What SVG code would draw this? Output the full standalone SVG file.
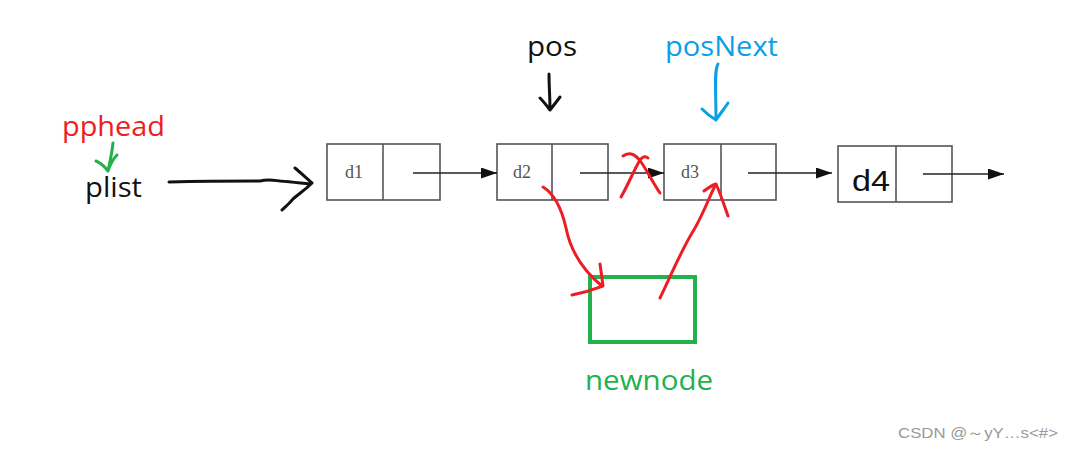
<svg xmlns="http://www.w3.org/2000/svg" width="1073" height="451" viewBox="0 0 1073 451">
<defs>
<marker id="ah" markerWidth="16" markerHeight="11" refX="16" refY="5.5" orient="auto" markerUnits="userSpaceOnUse"><path d="M0,0 L16,5.5 L0,11 Z" fill="#111"/></marker>
<style>
.box{fill:#fff;stroke:#555;stroke-width:1.6}
.lbl{font-family:"Liberation Serif",serif;font-size:18px;fill:#555}
.big{font-family:"Open Sans","Noto Sans",sans-serif;font-size:27px}
.link{stroke:#222;stroke-width:1.3;fill:none;marker-end:url(#ah)}
.pen{fill:none;stroke-linecap:round;stroke-linejoin:round}
.red{stroke:#ee1c24;stroke-width:3}
</style>
</defs>
<rect width="1073" height="451" fill="#fff"/>
<g id="node-d1"><rect class="box" x="327" y="144" width="113" height="56"/><line class="box" x1="383" y1="144" x2="383" y2="200"/><text class="lbl" x="345" y="178">d1</text></g>
<g id="node-d2"><rect class="box" x="497" y="144" width="111" height="56"/><line class="box" x1="552" y1="144" x2="552" y2="200"/><text class="lbl" x="513" y="178">d2</text></g>
<g id="node-d3"><rect class="box" x="664" y="144" width="112" height="56"/><line class="box" x1="721" y1="144" x2="721" y2="200"/><text class="lbl" x="681" y="178">d3</text></g>
<g id="node-d4"><rect class="box" x="838" y="146" width="114" height="56"/><line class="box" x1="896" y1="146" x2="896" y2="202"/><text x="852" y="191" font-family="Liberation Sans,Arial,sans-serif" font-size="29" fill="#111" textLength="38" lengthAdjust="spacingAndGlyphs">d4</text></g>
<g id="node-newnode"><rect x="590" y="277" width="105" height="65" fill="none" stroke="#22b14c" stroke-width="4"/><text class="big" x="585" y="390" fill="#22b14c" textLength="128" lengthAdjust="spacingAndGlyphs">newnode</text></g>
<g id="label-pphead"><text class="big" x="62" y="136" fill="#ee1c24" textLength="103" lengthAdjust="spacingAndGlyphs">pphead</text></g>
<g id="label-plist"><text class="big" x="85" y="197" fill="#111" textLength="57" lengthAdjust="spacingAndGlyphs">plist</text></g>
<g id="label-pos"><text class="big" x="527" y="56" fill="#111" textLength="50" lengthAdjust="spacingAndGlyphs">pos</text></g>
<g id="label-posNext"><text class="big" x="665" y="56" fill="#0aa0e6" textLength="113" lengthAdjust="spacingAndGlyphs">posNext</text></g>
<text x="898" y="438" font-family="Liberation Sans,Arial,sans-serif" font-size="15" fill="#999" textLength="160" lengthAdjust="spacingAndGlyphs">CSDN @～yY…s&lt;#&gt;</text>
<g id="connectors">
<line class="link" x1="413" y1="173" x2="497" y2="173"/>
<line class="link" x1="580" y1="173" x2="664" y2="173"/>
<line class="link" x1="748" y1="173" x2="832" y2="173"/>
<line class="link" x1="923" y1="174" x2="1004" y2="174"/>
<path class="pen" stroke="#22b14c" stroke-width="3" d="M113,143 C112,152 110,162 108,171 M96,161 C101,163 105,167 108,171 C110,165 113,159 117,155"/>
<path class="pen" stroke="#111" stroke-width="3" d="M169,182 C210,181 240,181 260,181 C268,179 272,180 280,181 C292,182 300,183 310,184 M295,168 C300,172 306,178 312,183 C305,190 296,196 292,200 C290,203 286,206 282,210"/>
<path class="pen" stroke="#111" stroke-width="3" d="M549,74 C549,86 550,98 550,110 M540,98 C544,102 547,106 550,110 C554,105 557,101 560,97"/>
<path class="pen" stroke="#0aa0e6" stroke-width="3" d="M718,64 C714,70 716,90 716,120 M702,109 C706,113 711,117 716,120 C720,114 724,109 728,103"/>
<path class="pen red" d="M621,197 C628,185 633,172 640,160 C643,156 646,156 648,158 M623,156 C630,151 636,155 641,162 C648,172 653,183 660,193"/>
<path class="pen red" d="M543,187 C556,195 562,210 566,228 C570,248 580,268 602,286 M600,264 C601,271 602,278 603,286 C595,289 588,292 572,295"/>
<path class="pen red" d="M660,298 C670,278 680,252 695,228 C705,210 710,195 716,184 M704,191 C708,188 712,185 716,184 C721,195 724,205 728,216"/>
</g>
</svg>
